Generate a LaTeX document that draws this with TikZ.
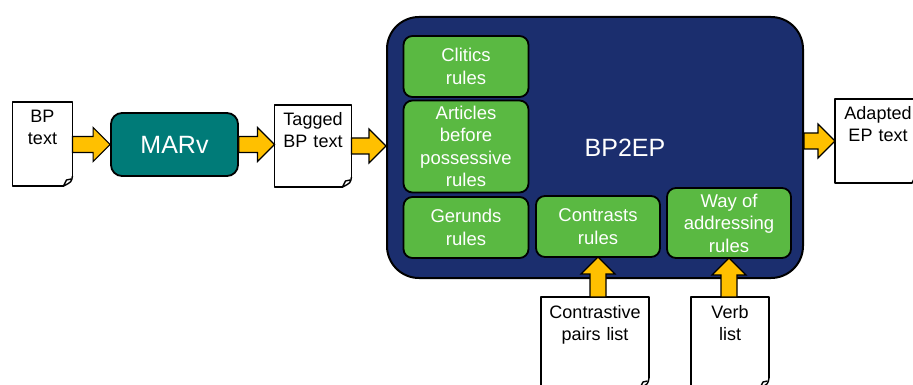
\documentclass[tikz,border=0pt]{standalone}
\usepackage{fontspec}
\setmainfont{Liberation Sans}
\usepackage{tikz}
\usetikzlibrary{calc}

\definecolor{marvteal}{RGB}{0,123,120}
\definecolor{pipeblue}{RGB}{27,46,110}
\definecolor{rulegreen}{RGB}{90,185,66}
\definecolor{arrowgold}{RGB}{255,192,0}

% page outline with a curled bottom right corner
\newcommand{\docpage}[1]{%
  \draw[docline] ([yshift=10pt]#1.south east) -- (#1.north east) -- (#1.north west)
    -- (#1.south west) -- ([xshift=-9pt]#1.south east);
  \draw[docline] ([yshift=10pt]#1.south east)
    .. controls ([xshift=-1pt,yshift=4pt]#1.south east) .. ([xshift=-9pt]#1.south east);
  \draw[docline] ([xshift=-9pt]#1.south east) -- ([xshift=-6pt,yshift=6pt]#1.south east)
    -- ([xshift=-1.5pt,yshift=7pt]#1.south east);
}

\tikzset{
  docline/.style={line width=1.4pt, line join=round},
  doc/.style={anchor=north, align=center, inner xsep=3pt, inner ysep=8pt, outer sep=0pt,
    text height=13pt, font=\fontsize{18}{22}\selectfont},
  rulebox/.style={draw=black, line width=1.8pt, fill=rulegreen, rounded corners=9pt,
    minimum width=124pt, text=white, align=center, inner sep=0pt, outer sep=0pt,
    font=\fontsize{18.5}{22.5}\selectfont},
  fatarrow/.style={draw=black, line width=1.1pt, fill=arrowgold, line join=miter,
    to path={
      ($(\tikztostart)!8pt!90:(\tikztotarget)$)
      -- ($($(\tikztotarget)!17pt!(\tikztostart)$)!8pt!90:(\tikztotarget)$)
      -- ($($(\tikztotarget)!17pt!(\tikztostart)$)!17pt!90:(\tikztotarget)$)
      -- (\tikztotarget)
      -- ($($(\tikztotarget)!17pt!(\tikztostart)$)!17pt!-90:(\tikztotarget)$)
      -- ($($(\tikztotarget)!17pt!(\tikztostart)$)!8pt!-90:(\tikztotarget)$)
      -- ($(\tikztostart)!8pt!-90:(\tikztotarget)$)
      -- cycle}},
}

\begin{document}
\begin{tikzpicture}[x=1pt, y=-1pt]
    \useasboundingbox (0,0) rectangle (913,385);
    \clip (0,0) rectangle (913,385);

    % input documents and tagger
    \node[doc, text width=54pt, text depth=55pt] (bp) at (42.5,102) {BP\\text};
    \node[draw=black, line width=1.8pt, fill=marvteal, rounded corners=11pt,
          minimum width=127pt, minimum height=63pt, text=white,
          font=\fontsize{25}{30}\selectfont] (marv) at (174.5,144.5) {MARv};
    \node[doc, text width=71pt, text depth=53pt] (tagged) at (313,105) {Tagged\\BP text};

    % BP2EP module
    \node[draw=black, line width=2pt, fill=pipeblue, rounded corners=32pt,
          minimum width=416pt, minimum height=261pt] (bp2ep) at (595,147.5) {};
    \node[text=white, font=\fontsize{25}{30}\selectfont] (bp2eptitle) at (625,148) {BP2EP};
    \node[rulebox, minimum width=125pt, minimum height=61pt] (clitics) at (466,66.5) {Clitics\\rules};
    \node[rulebox, minimum width=125pt, minimum height=92pt] (articles) at (466,146.5) {Articles\\before\\possessive\\rules};
    \node[rulebox, minimum width=125pt, minimum height=61pt] (gerunds) at (466,227.5) {Gerunds\\rules};
    \node[rulebox, minimum height=61pt] (contrasts) at (598,226.5) {Contrasts\\rules};
    \node[rulebox, minimum height=70pt] (addressing) at (729,223) {Way of\\addressing\\rules};

    % output and resource documents
    \node[doc, text width=80pt, text depth=55pt, xshift=-2pt] (adapted) at (880,99) {Adapted\\EP text};
    \node[doc, text width=102pt, text depth=62pt] (pairs) at (595,297) {Contrastive\\pairs list};
    \node[doc, text width=72pt, text depth=62pt] (verbs) at (730,297) {Verb\\list};

    \docpage{bp}
    \docpage{tagged}
    \docpage{adapted}
    \docpage{pairs}
    \docpage{verbs}

    % flow
    \draw[fatarrow] (bp.east |- marv.west) to (marv.west);
    \draw[fatarrow] (marv.east) to (marv.east -| tagged.west);
    \draw[fatarrow] (tagged.east) to (tagged.east -| bp2ep.west);
    \draw[fatarrow] (bp2ep.east |- adapted.west) to (adapted.west);
    \draw[fatarrow] (contrasts.south |- pairs.north) to (contrasts.south);
    \draw[fatarrow] (addressing.south |- verbs.north) to (addressing.south);
\end{tikzpicture}
\end{document}
